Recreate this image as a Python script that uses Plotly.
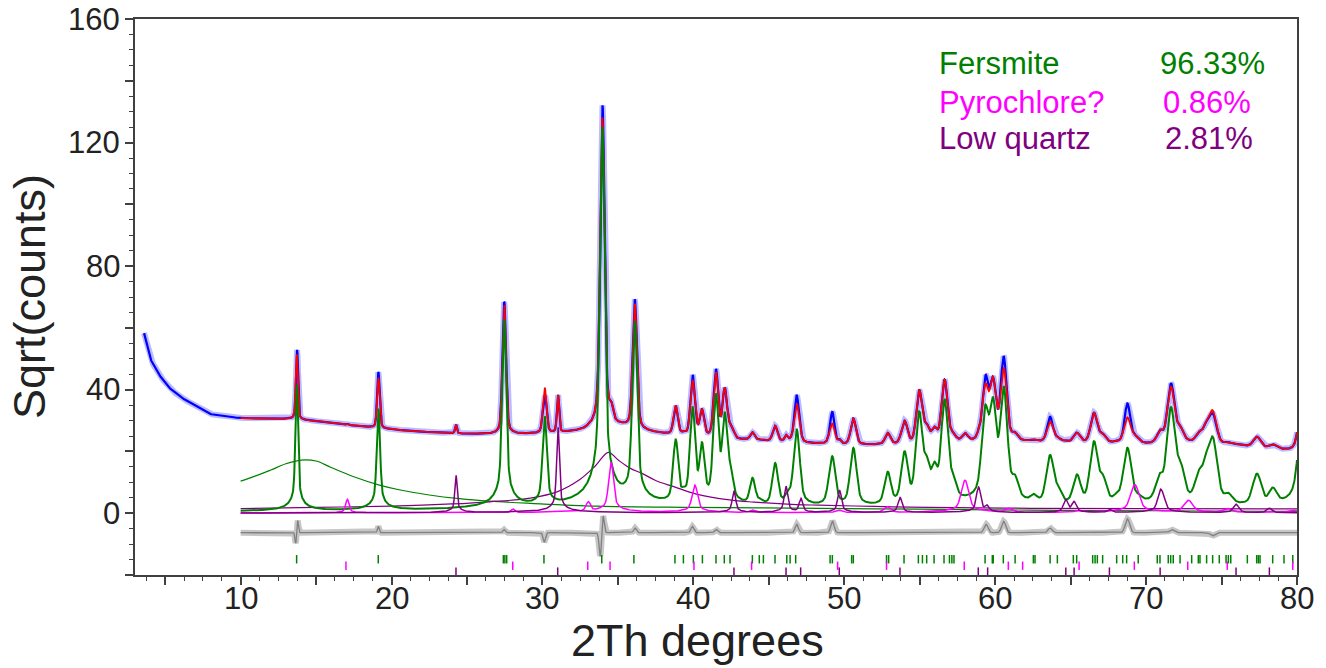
import numpy as np
import plotly.graph_objects as go

# ---------------- data ----------------
# smooth background of the pattern (sqrt counts)
bg_x = [3.6, 4.0, 4.5, 4.86, 5.32, 5.98, 7.09, 7.97, 9.0, 10, 12, 13.5, 15, 17, 19, 21, 23, 25, 27, 29,
        31, 33, 34.3, 35.3, 36.5, 38, 40, 42, 44, 46, 48, 50, 52, 54, 56, 58, 60, 62, 64, 66, 68, 70,
        72, 74, 76, 78, 80]
bg_y = [58.3, 50.1, 45.5, 43.1, 40.4, 37.7, 34.5, 32.1, 31.3, 30.8, 30.6, 30.5, 29.8, 28.6, 27.6, 26.7,
        26.1, 25.7, 25.5, 25.6, 25.9, 26.6, 28.0, 27.8, 26.6, 25.6, 24.8, 24.0, 23.5, 23.0, 22.5, 22.2,
        22.1, 22.2, 22.5, 22.9, 23.1, 23.1, 22.9, 22.7, 22.5, 22.3, 22.4, 22.3, 21.9, 20.9, 19.8]

# Fersmite reflections: position (2Th) and peak height (sqrt counts)
fer_pos = [13.72, 19.13, 27.47, 30.15, 33.97, 36.12, 38.83, 39.35, 39.95, 40.57, 41.50, 42.08, 42.45,
           43.92, 44.40, 45.42, 46.20, 46.45, 46.85, 49.08, 49.22, 50.60, 52.88, 54.00, 54.97, 55.45,
           55.98, 56.65, 57.20, 59.35, 59.85, 60.56, 61.30, 62.55, 63.64, 64.15, 65.42, 66.55, 67.12,
           68.05, 68.76, 69.50, 70.90, 71.65, 72.25, 73.50, 74.00, 74.42, 75.45, 77.35, 78.40, 80.45]
fer_h = [41.5, 34.0, 62.5, 31.3, 125.0, 62.0, 23.5, 5.0, 34.0, 22.0, 38.3, 32.0, 13.0,
         11.0, 3.0, 16.0, 4.0, 4.0, 27.0, 8.0, 17.0, 21.0, 13.0, 19.5, 32.5, 16.0,
         14.5, 36.5, 10.0, 33.5, 36.0, 40.5, 10.0, 4.5, 18.5, 7.0, 12.0, 23.0, 11.0,
         4.0, 21.0, 4.0, 11.0, 34.0, 15.0, 12.0, 16.0, 23.5, 5.0, 12.5, 7.5, 38.0]

# Pyrochlore? reflections
pyr_pos = [17.07, 28.05, 33.04, 34.55, 40.10, 43.90, 49.60, 52.86, 58.00, 60.90, 65.56, 69.25, 72.80,
           75.40, 79.72]
pyr_h = [4.5, 1.3, 3.7, 16.4, 9.1, 1.0, 1.0, 2.1, 10.7, 1.5, 0.8, 9.3, 4.2, 1.5, 1.0]

# Low quartz reflections
qtz_pos = [24.27, 31.03, 42.69, 46.14, 47.13, 49.69, 53.70, 58.90, 59.45, 64.68, 65.22, 67.57, 70.93,
           71.12, 75.96, 78.17]
qtz_h = [12.4, 28.0, 7.3, 8.7, 4.8, 7.4, 5.1, 8.5, 2.5, 4.4, 3.8, 1.2, 7.1, 5.0, 2.9, 1.6]

# broad humps
hump_f_x = [10, 11, 12, 13, 14, 15, 16, 17.5, 19.2, 20.5, 22.5, 24.5, 26.5, 29.2, 33.6, 40, 48.3, 55,
            62.3, 70, 80]
hump_f_y = [10.4, 12.1, 14.0, 16.0, 17.2, 16.9, 14.8, 11.8, 9.1, 7.6, 5.9, 4.7, 3.9, 3.2, 2.3, 1.9,
            1.6, 1.3, 1.0, 0.8, 0.6]
hump_q_x = [10, 15, 20, 24, 26.5, 29.2, 31, 32.5, 33.5, 34.37, 35, 35.8, 36.6, 37.5, 38.7, 40.2, 42.4,
            44, 46.8, 48.3, 52, 55.6, 62.3, 70, 80]
hump_q_y = [1.5, 1.9, 2.3, 3.0, 3.7, 4.9, 7.0, 11.0, 15.3, 19.7, 17.3, 14.6, 12.9, 10.6, 8.6, 6.2,
            4.3, 3.6, 2.8, 2.6, 2.2, 1.9, 1.6, 1.5, 1.4]

# observed minus calculated misfits (sqrt counts)
mis_pos = [13.65, 13.78, 19.12, 27.45, 30.12, 33.85, 33.99, 36.13, 39.93, 41.50, 46.85, 49.21, 59.40,
           60.56, 63.64, 68.76, 71.70, 74.40]
mis_amp = [-3.5, 4.0, 2.0, 1.0, -3.0, -9.0, 7.0, 1.5, 2.0, 1.0, 2.7, 3.8, 2.7, 3.7, 1.5, 4.5, 1.0, -1.0]
diff_offset = -6.3

# reflection tick positions
fer_ticks = [13.71, 19.12, 27.41, 27.51, 27.63, 30.10, 33.93, 36.06, 38.78, 39.34, 40.00, 40.60,
             41.50, 42.05, 42.43, 43.91, 44.37, 44.64, 45.41, 46.19, 46.41, 46.78, 49.06, 49.21,
             50.49, 50.60, 52.80, 52.94, 53.96, 54.91, 55.18, 55.46, 55.95, 56.61, 56.97, 57.13,
             57.27, 59.33, 59.81, 59.87, 60.54, 61.32, 62.53, 62.64, 63.64, 64.12, 65.18, 65.40,
             66.46, 66.62, 66.77, 67.12, 68.05, 68.45, 68.71, 69.48, 70.74, 70.92, 71.47, 71.63,
             71.80, 72.25, 73.02, 73.46, 73.57, 74.01, 74.41, 74.85, 75.30, 75.45, 75.61, 76.71,
             77.33, 77.44, 77.55, 78.39, 79.14, 79.72]
pyr_ticks = [16.98, 28.03, 33.00, 34.48, 40.04, 43.86, 49.56, 52.80, 57.95, 60.87, 61.82, 65.56,
             69.22, 72.76, 75.38, 79.72]
qtz_ticks = [24.27, 31.01, 42.69, 46.14, 47.11, 49.67, 53.69, 58.88, 59.50, 64.68, 65.23, 67.57,
             70.93, 75.96, 78.17]
tick_rows = [-14.9, -17.0, -18.9]

phase_names = ["Fersmite", "Pyrochlore?", "Low quartz"]
phase_pct = ["96.33%", "0.86%", "2.81%"]
phase_colors = ["#008000", "#ff00ff", "#800080"]

x_ticks = [10, 20, 30, 40, 50, 60, 70, 80]
y_ticks = [0, 40, 80, 120, 160]

# ---------------- computation ----------------
x = np.round(np.arange(3.6, 80.0001, 0.02), 4)
calc_mask = x >= 10


def width(p):
    return 0.07 + 0.003 * (p - 10)


def intensity(xx, pos, h, scale=1.0):
    out = np.zeros_like(xx)
    for p, hh in zip(pos, h):
        u = ((xx - p) / (width(p) * scale)) ** 2
        out += hh ** 2 * (0.3 / (1 + u) + 0.7 * np.exp(-np.log(2) * u))
    return out


bg = np.interp(x, bg_x, bg_y)
I_f = intensity(x, fer_pos, fer_h)
I_p = intensity(x, pyr_pos, pyr_h)
I_q = intensity(x, qtz_pos, qtz_h, 0.6)
calc = np.sqrt(bg ** 2 + I_f + I_p + I_q)
mis = np.zeros_like(x)
for p, a in zip(mis_pos, mis_amp):
    mis += a * np.exp(-np.log(2) * ((x - p) / (0.7 * width(p))) ** 2)
obs = calc + mis

xc = x[calc_mask]

fig = go.Figure()
# observed (band imitates spread of counts)
fig.add_trace(go.Scatter(x=x, y=obs, mode="lines", line=dict(color="rgba(60,60,255,0.35)", width=6),
                         hoverinfo="skip", showlegend=False))
fig.add_trace(go.Scatter(x=x, y=obs, mode="lines", line=dict(color="#0000ff", width=2.2),
                         name="observed", showlegend=False))
fig.add_trace(go.Scatter(x=xc, y=calc[calc_mask], mode="lines", line=dict(color="#ff0000", width=1.8),
                         name="calculated", showlegend=False))
# broad humps
fig.add_trace(go.Scatter(x=hump_f_x, y=hump_f_y, mode="lines", line=dict(color="#008000", width=1.2, shape="spline"),
                         showlegend=False))
fig.add_trace(go.Scatter(x=hump_q_x, y=hump_q_y, mode="lines", line=dict(color="#800080", width=1.2, shape="spline"),
                         showlegend=False))
# phase components
fig.add_trace(go.Scatter(x=xc, y=np.sqrt(I_f[calc_mask]), mode="lines", line=dict(color="#008000", width=2),
                         name="Fersmite", showlegend=False))
fig.add_trace(go.Scatter(x=xc, y=np.sqrt(I_p[calc_mask]), mode="lines", line=dict(color="#ff00ff", width=1.5),
                         name="Pyrochlore?", showlegend=False))
fig.add_trace(go.Scatter(x=xc, y=np.sqrt(I_q[calc_mask]), mode="lines", line=dict(color="#800080", width=1.5),
                         name="Low quartz", showlegend=False))
# difference
fig.add_trace(go.Scatter(x=xc, y=diff_offset + mis[calc_mask], mode="lines",
                         line=dict(color="rgba(128,128,128,0.45)", width=6), hoverinfo="skip", showlegend=False))
fig.add_trace(go.Scatter(x=xc, y=diff_offset + mis[calc_mask], mode="lines",
                         line=dict(color="#808080", width=1.3), name="difference", showlegend=False))
# reflection ticks
for ticks, row, col in zip([fer_ticks, pyr_ticks, qtz_ticks], tick_rows, phase_colors):
    fig.add_trace(go.Scatter(x=ticks, y=[row] * len(ticks), mode="markers",
                             marker=dict(symbol="line-ns", size=6, line=dict(color=col, width=1.5)),
                             showlegend=False))

font = "Liberation Sans, Arial, sans-serif"
txt_col = "#222222"
# phase legend text
legend_y = [145.7, 133.1, 121.4]
pct_x = [70.8, 71.0, 71.1]
for name, pct, col, ly, px in zip(phase_names, phase_pct, phase_colors, legend_y, pct_x):
    fig.add_annotation(x=56.15, y=ly, xref="x", yref="y", text=name, showarrow=False,
                       xanchor="left", yanchor="middle", font=dict(family=font, size=31, color=col))
    fig.add_annotation(x=px, y=ly, xref="x", yref="y", text=pct, showarrow=False,
                       xanchor="left", yanchor="middle", font=dict(family=font, size=31, color=col))

# tick labels (as text placed at the axis values)
for v in x_ticks:
    fig.add_annotation(x=v, y=-0.0414, xref="x", yref="paper", text=str(v), showarrow=False,
                       xanchor="center", yanchor="middle", font=dict(family=font, size=31, color=txt_col))
for v in y_ticks:
    fig.add_annotation(x=-0.0112, y=v, xref="paper", yref="y", text=str(v), showarrow=False,
                       xanchor="right", yanchor="middle", font=dict(family=font, size=31, color=txt_col))

# axis titles
fig.add_annotation(x=0.4845, y=-0.117, xref="paper", yref="paper", text="2Th degrees", showarrow=False,
                   xanchor="center", yanchor="middle", font=dict(family=font, size=45, color=txt_col))
fig.add_annotation(x=-0.0912, y=0.5, xref="paper", yref="paper", text="Sqrt(counts)", showarrow=False,
                   textangle=-90, xanchor="center", yanchor="middle", font=dict(family=font, size=45, color=txt_col))

axis_col = "#404040"
x_major = list(range(5, 81, 5))
x_minor = [v for v in np.arange(3.75, 80.01, 1.25) if abs(v / 5 - round(v / 5)) > 1e-9]
y_major = list(range(-20, 161, 20))
y_minor = [v for v in range(-20, 161, 5) if v % 20 != 0]

fig.update_layout(
    width=1318, height=660,
    margin=dict(l=127, r=29, t=11, b=93, autoexpand=False),
    plot_bgcolor="white", paper_bgcolor="white",
    showlegend=False,
    font=dict(family=font, color=txt_col),
    xaxis=dict(range=[3, 80], showgrid=False, zeroline=False, showline=True, linecolor=axis_col,
               linewidth=2, mirror=True, ticks="outside", ticklen=8, tickwidth=1.5, tickcolor=axis_col,
               automargin=False, showticklabels=False,
               tickmode="array", tickvals=x_major,
               minor=dict(tickmode="array", tickvals=x_minor, ticklen=4, tickwidth=1.2, tickcolor=axis_col,
                          ticks="outside", showgrid=False)),
    yaxis=dict(range=[-20, 160], showgrid=False, zeroline=False, showline=True, linecolor=axis_col,
               linewidth=2, mirror=True, ticks="outside", ticklen=8, tickwidth=1.5, tickcolor=axis_col,
               automargin=False, showticklabels=False,
               tickmode="array", tickvals=y_major,
               minor=dict(tickmode="array", tickvals=y_minor, ticklen=4, tickwidth=1.2, tickcolor=axis_col,
                          ticks="outside", showgrid=False)),
)

fig.write_html("out.html")
